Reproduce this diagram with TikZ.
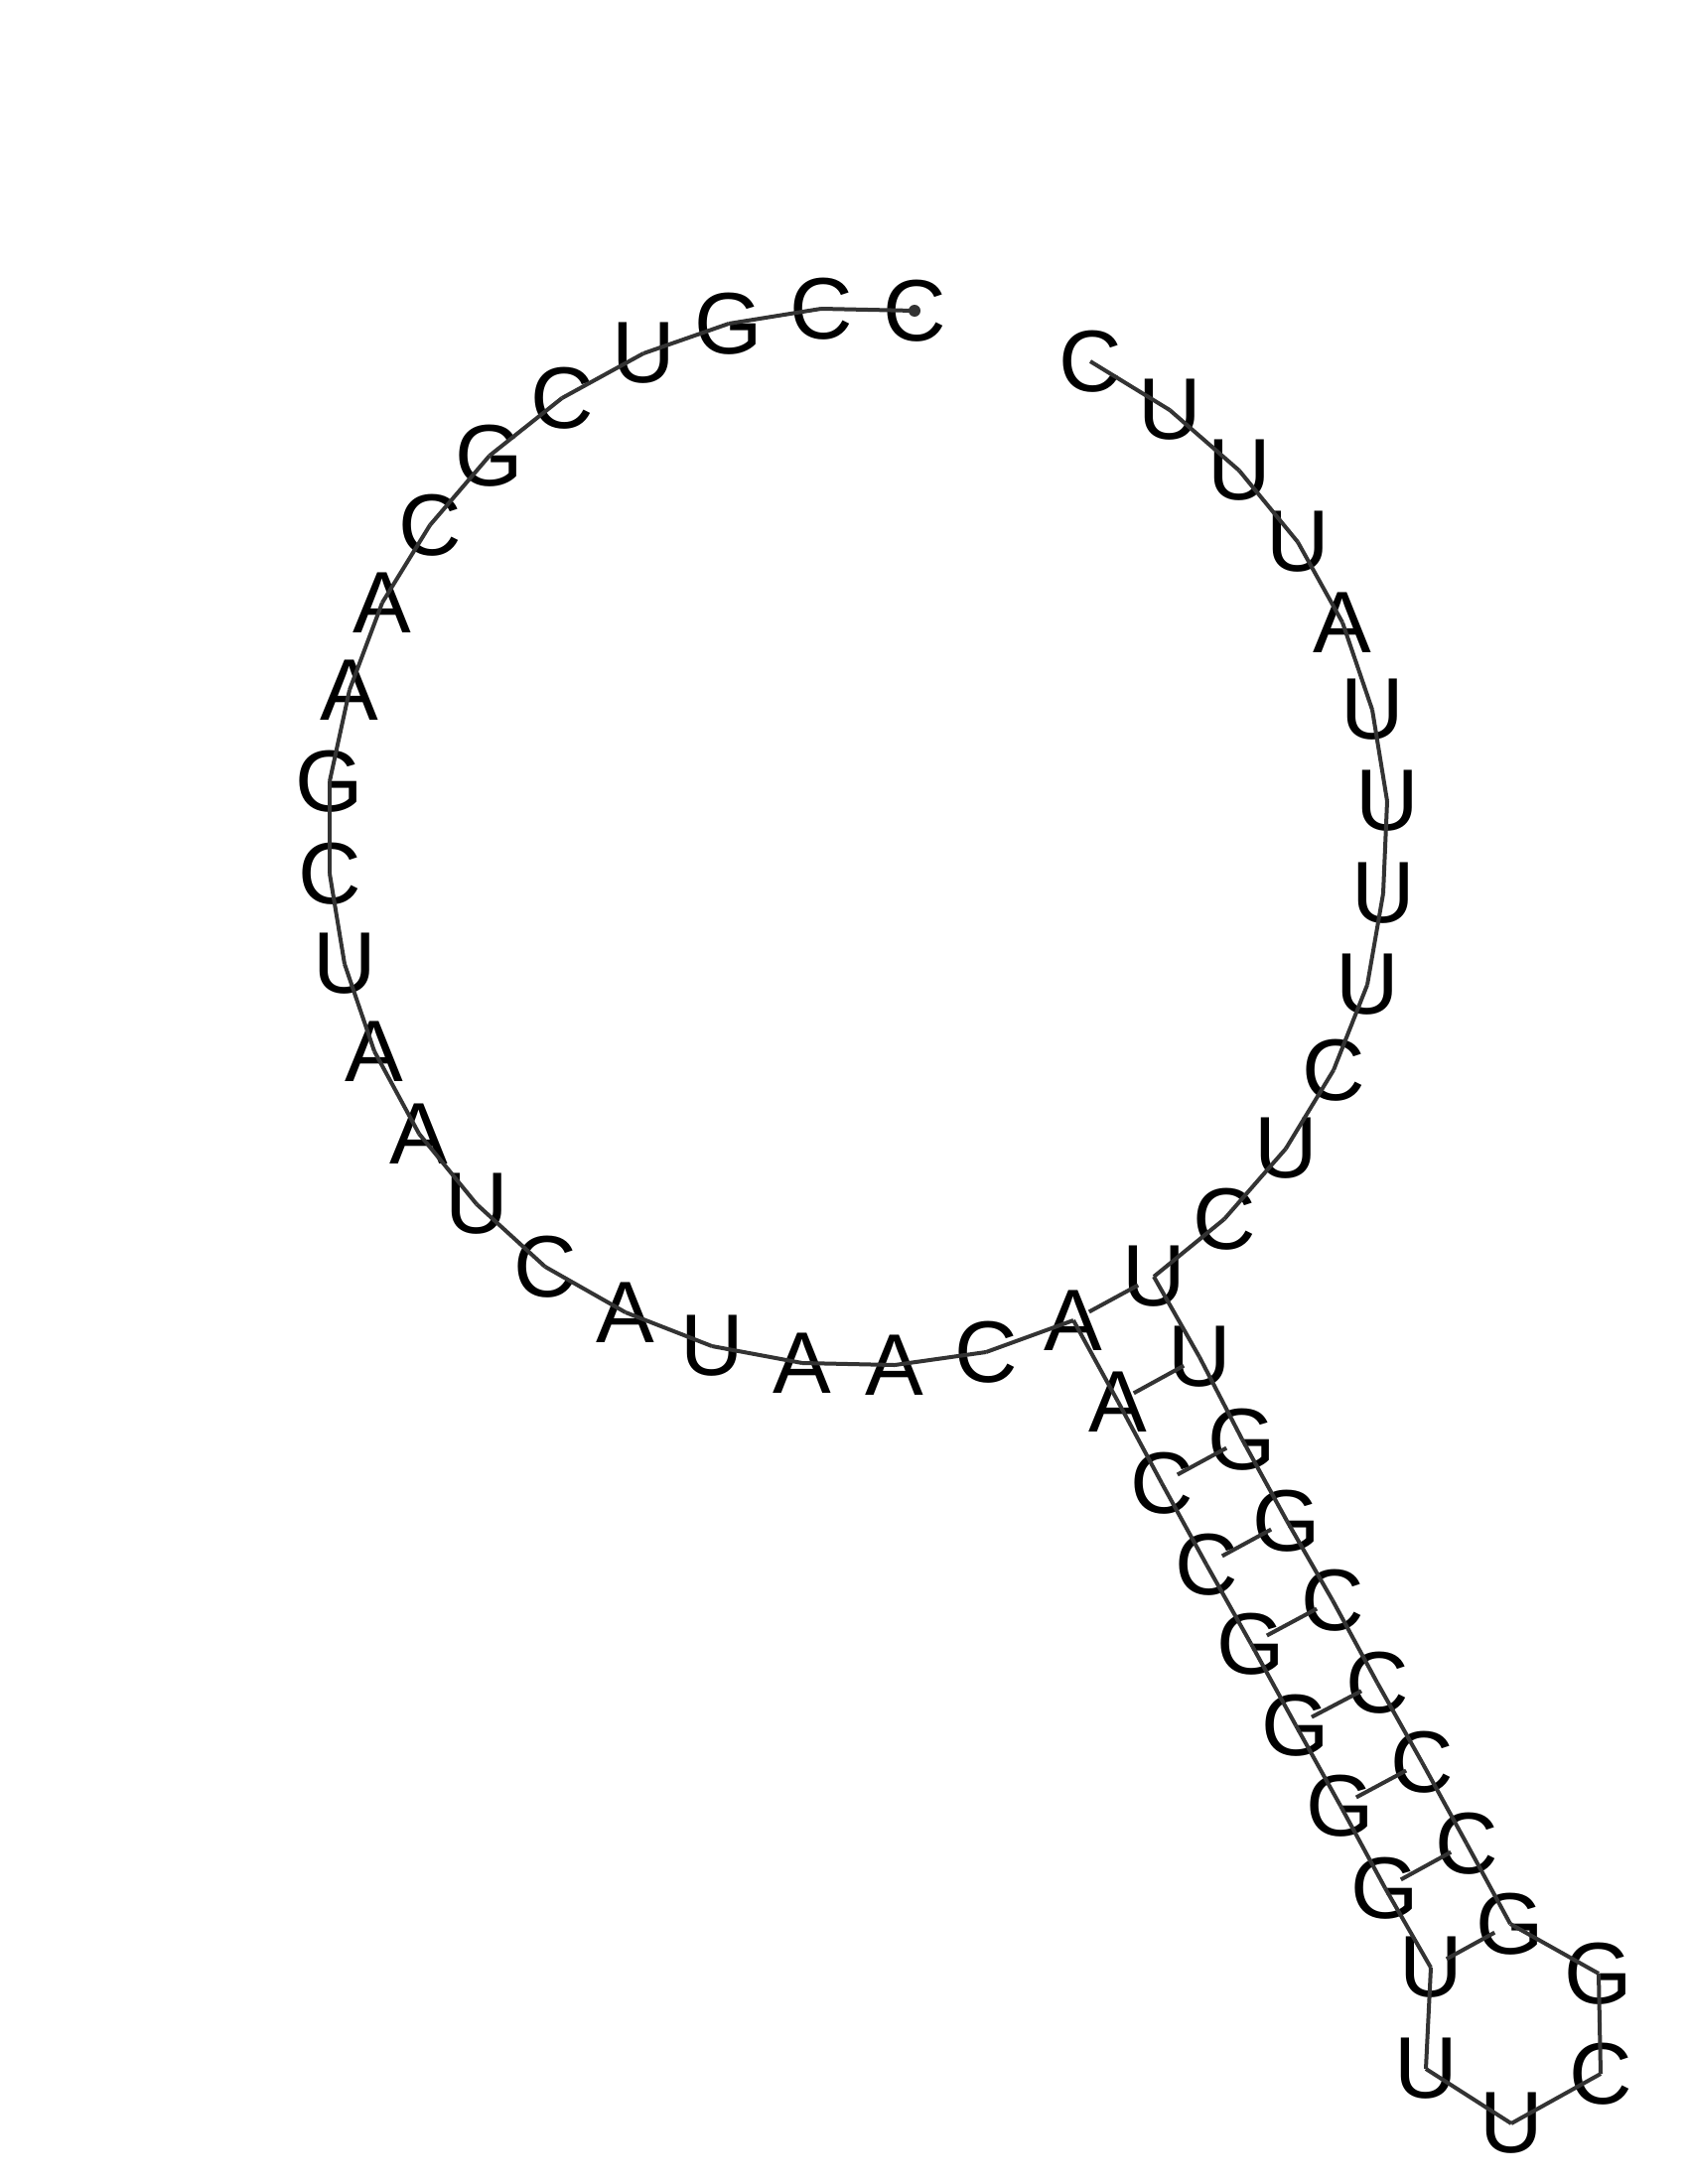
\documentclass[tikz,border=0pt]{standalone}
\usepackage{fontspec}
\setmainfont{Liberation Sans}
\begin{document}
\begin{tikzpicture}[x=1pt,y=-1pt,every node/.style={font=\fontsize{88}{88}\selectfont,inner sep=0pt},
  backbone/.style={draw=black!80,line width=4pt},
  basepair/.style={draw=black!80,line width=4pt,shorten <=18pt,shorten >=18pt}]
\useasboundingbox (0,0) rectangle (1700,2200);
% bases, 5' end first
\foreach \n/\b/\x/\y in {1/C/921/313, 2/C/827/311, 3/G/734/326, 4/U/648/356, 5/C/566/401, 6/G/493/459, 7/C/433/529,
  8/A/385/607, 9/A/352/695, 10/G/332/787, 11/C/332/880, 12/U/347/971, 13/A/377/1059, 14/A/422/1142,
  15/U/480/1213, 16/C/549/1276, 17/A/630/1322, 18/U/717/1356, 19/A/808/1373, 20/A/901/1375, 21/C/993/1362,
  22/A/1081/1330, 23/A/1126/1412, 24/C/1170/1494, 25/C/1215/1576, 26/G/1260/1656, 27/G/1305/1738,
  28/G/1350/1819, 29/G/1395/1902, 30/U/1441/1982, 31/U/1436/2084, 32/U/1522/2139, 33/C/1612/2089,
  34/G/1610/1988, 35/G/1521/1938, 36/C/1477/1857, 37/C/1432/1775, 38/C/1387/1695, 39/C/1342/1612,
  40/G/1296/1532, 41/G/1251/1450, 42/U/1208/1367, 43/U/1162/1286, 44/C/1233/1228, 45/U/1295/1157,
  46/C/1343/1078, 47/U/1377/992, 48/U/1393/900, 49/U/1397/807, 50/U/1382/715, 51/A/1352/627,
  52/U/1307/546, 53/U/1248/474, 54/U/1178/413, 55/C/1098/364}
  \node (n\n) at (\x,\y) {\b};
% backbone
\foreach \i [evaluate=\i as \j using int(\i+1)] in {1,...,54}
  \draw[backbone] (n\i.center) -- (n\j.center);
% stem pairs
\foreach \i/\j in {22/43, 23/42, 24/41, 25/40, 26/39, 27/38, 28/37, 29/36, 30/35}
  \draw[basepair] (n\i.center) -- (n\j.center);
\fill[black!80] (n1.center) circle (6);
\end{tikzpicture}
\end{document}
